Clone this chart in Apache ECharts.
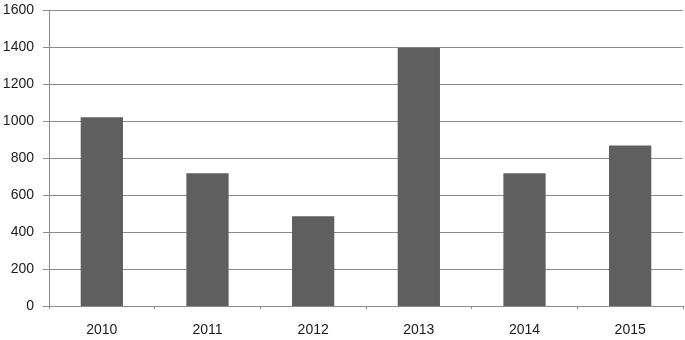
<!DOCTYPE html>
<html><head><meta charset="utf-8">
<script src="https://cdn.jsdelivr.net/npm/echarts@6/dist/echarts.min.js"></script>
<style>html,body{margin:0;padding:0;background:#fff}#c{width:685px;height:340px}</style>
</head><body><div id="c"></div>
<script>
var categories = ['2010','2011','2012','2013','2014','2015'];
var values = [1020, 718, 485, 1396, 718, 868];
var yTicks = [0, 200, 400, 600, 800, 1000, 1200, 1400, 1600];

var chart = echarts.init(document.getElementById('c'), null, {renderer:'canvas'});
chart.setOption({
  animation: false,
  grid: {left: 49, right: 2, top: 10, bottom: 34, containLabel: false, outerBoundsMode: 'none'},
  xAxis: {
    type: 'category', data: categories,
    axisLine: {show: true, lineStyle: {color: '#8c8c8c', width: 1}},
    axisTick: {show: true, length: 3, lineStyle: {color: '#8c8c8c'}},
    axisLabel: {color: '#1a1a1a', fontSize: 14, fontFamily: 'Liberation Sans', margin: 17}
  },
  yAxis: {
    type: 'value', min: yTicks[0], max: yTicks[yTicks.length-1], interval: 200,
    axisLine: {show: true, lineStyle: {color: '#8c8c8c', width: 1}},
    axisTick: {show: true, length: 6, lineStyle: {color: '#8c8c8c'}},
    axisLabel: {color: '#1a1a1a', fontSize: 14, fontFamily: 'Liberation Sans', margin: 15,
      formatter: function (v) { return String(v); }},
    splitLine: {show: true, lineStyle: {color: '#8c8c8c', width: 1}}
  },
  series: [{
    type: 'bar', data: values, barWidth: '40%',
    itemStyle: {color: '#5f5f5f'}
  }]
});
</script></body></html>
